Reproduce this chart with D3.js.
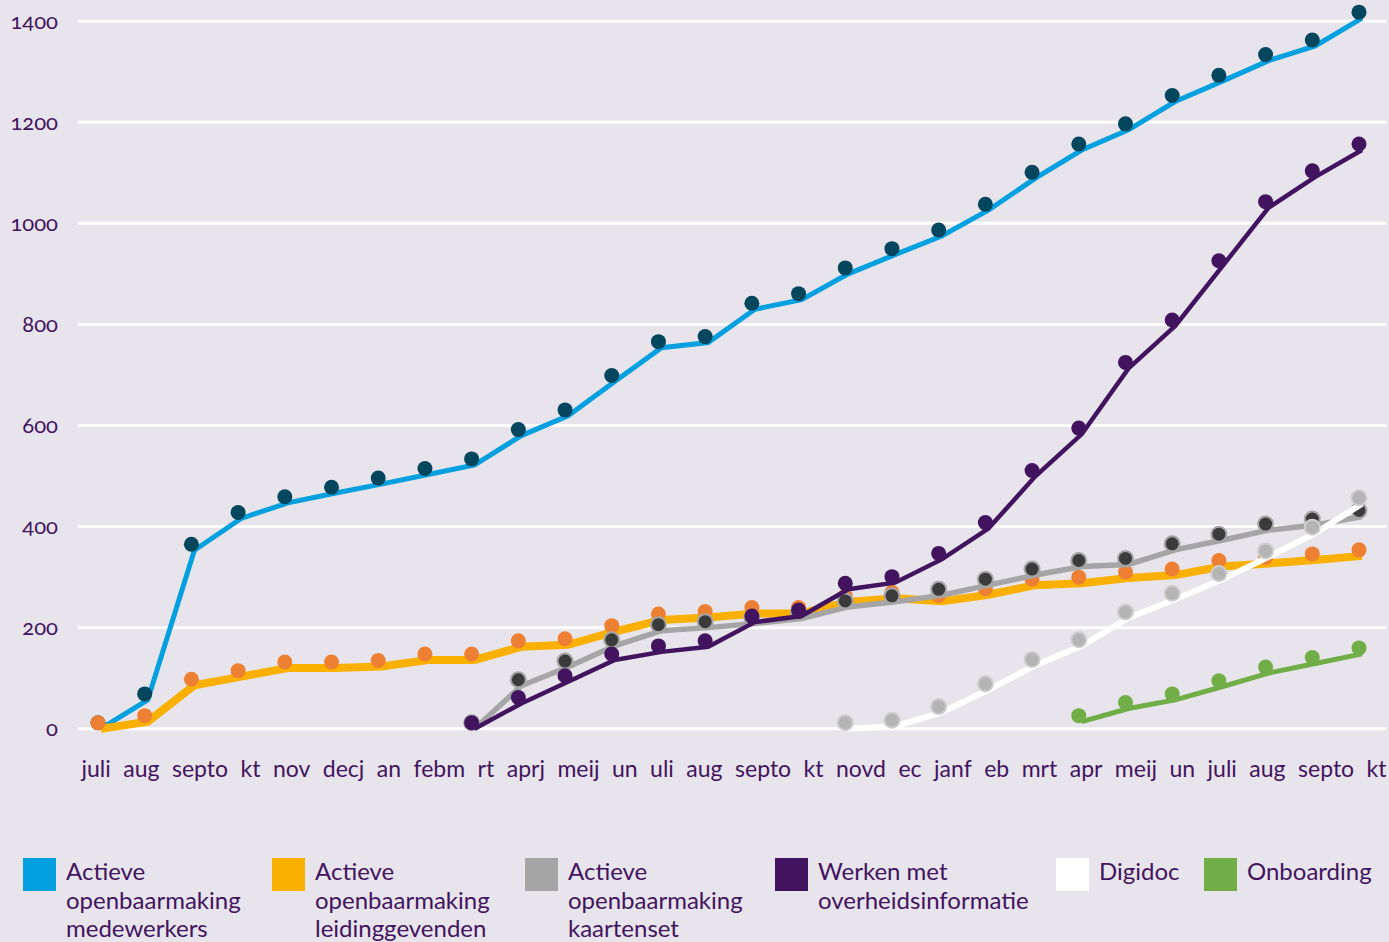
<!DOCTYPE html>
<html>
<head>
<meta charset="utf-8">
<script src="https://cdn.jsdelivr.net/npm/d3@7"></script>
<style>
  html, body { margin: 0; padding: 0; background: #e8e4eb; }
  svg { display: block; }
  text { font-family: Lato, "Open Sans", sans-serif; fill: #42145f; }
</style>
</head>
<body>
<svg id="chart" width="1389" height="942"></svg>
<script>
// ---------- data ----------
const monthLabels = ["juli","aug","septo","kt","nov","decj","an","febm","rt","aprj","meij","un","uli","aug","septo","kt","novd","ec","janf","eb","mrt","apr","meij","un","juli","aug","septo","kt"];
const yTicks = [0, 200, 400, 600, 800, 1000, 1200, 1400];

const medewerkers = [0, 57, 353, 416, 447, 466, 484, 503, 522, 580, 619, 687, 754, 764, 830, 849, 900, 938, 975, 1026, 1089, 1145, 1185, 1241, 1281, 1322, 1351, 1406];
const leidinggevenden = [0, 14, 86, 103, 120, 120, 123, 136, 136, 162, 166, 192, 215, 220, 228, 228, 251, 258, 252, 265, 284, 288, 298, 304, 321, 327, 334, 342];
const kaartenset = [null, null, null, null, null, null, null, null, 0, 85, 122, 164, 194, 200, 208, 218, 241, 251, 264, 284, 304, 321, 325, 354, 373, 393, 403, 420];
const overheidsinformatie = [null, null, null, null, null, null, null, null, 0, 50, 93, 136, 152, 162, 211, 223, 276, 289, 335, 396, 499, 583, 713, 797, 914, 1031, 1092, 1145];
const digidoc = [null, null, null, null, null, null, null, null, null, null, null, null, null, null, null, null, 0, 5, 32, 77, 125, 164, 219, 256, 295, 340, 387, 445];
const onboarding = [null, null, null, null, null, null, null, null, null, null, null, null, null, null, null, null, null, null, null, null, null, 14, 40, 57, 83, 110, 129, 148];

const seriesNames = [
  ["Actieve", "openbaarmaking", "medewerkers"],
  ["Actieve", "openbaarmaking", "leidinggevenden"],
  ["Actieve", "openbaarmaking", "kaartenset"],
  ["Werken met", "overheidsinformatie"],
  ["Digidoc"],
  ["Onboarding"]
];
const seriesValues = [medewerkers, leidinggevenden, kaartenset, overheidsinformatie, digidoc, onboarding];

// ---------- styles ----------
const styles = [
  { line: "#03a0e0", width: 5, dot: "#05465f", dotStroke: "none", dotStrokeW: 0 },
  { line: "#f9b000", width: 8, dot: "#ee8034", dotStroke: "none", dotStrokeW: 0 },
  { line: "#a5a5a5", width: 5.5, dot: "#3b3b3b", dotStroke: "#a5a5a5", dotStrokeW: 2 },
  { line: "#42145f", width: 4.5, dot: "#42145f", dotStroke: "none", dotStrokeW: 0 },
  { line: "#ffffff", width: 6, dot: "#b4b4b4", dotStroke: "#cdcdcd", dotStrokeW: 2 },
  { line: "#72ae48", width: 5, dot: "#72ae48", dotStroke: "none", dotStrokeW: 0 }
];
const legendX = [23, 272, 525, 775, 1056, 1204];

// ---------- layout ----------
const svg = d3.select("#chart");
const x = d3.scalePoint().domain(d3.range(monthLabels.length)).range([101, 1362]);
const y = d3.scaleLinear().domain([0, 1400]).range([728.7, 21.2]);
const dotDx = -3, dotDy = -6, dotR = 7.5;

// gridlines
svg.append("g").selectAll("line").data(yTicks).join("line")
  .attr("x1", 78).attr("x2", 1386)
  .attr("y1", d => y(d)).attr("y2", d => y(d))
  .attr("stroke", "#ffffff").attr("stroke-width", 3);

// y axis labels
const yAxis = d3.axisLeft(y).tickValues(yTicks).tickFormat(d3.format("d")).tickSize(0).tickPadding(0);
const gy = svg.append("g").attr("transform", "translate(58,0)").call(yAxis);
gy.select(".domain").remove();
gy.selectAll("text")
  .attr("fill", "#4a2470")
  .style("font-family", "Lato, 'Open Sans', sans-serif")
  .style("font-size", "22px")
  .style("font-variant-numeric", "oldstyle-nums")
  .attr("dy", "0.32em");

// x axis labels: set as one justified line of text running under the ticks
const xAxis = d3.axisBottom(x).tickFormat(i => monthLabels[i]).tickSize(0).tickPadding(0);
const gx = svg.append("g").attr("transform", "translate(0,777)").call(xAxis);
gx.select(".domain").remove();
const xTexts = gx.selectAll("text")
  .attr("fill", "#42145f")
  .attr("dy", 0).attr("y", 0)
  .attr("text-anchor", "start")
  .style("font-family", "Lato, 'Open Sans', sans-serif")
  .style("font-size", "23px");
{
  const nodes = xTexts.nodes();
  const widths = nodes.map(n => n.getComputedTextLength());
  const startX = x(0) - 20, endX = x(monthLabels.length - 1) + 24;
  const gap = (endX - startX - d3.sum(widths)) / (nodes.length - 1);
  let cur = startX;
  nodes.forEach((n, i) => {
    // each tick group is translated to x(i); place text relative to it
    d3.select(n).attr("x", cur - x(i));
    cur += widths[i] + gap;
  });
}

// series
const line = d3.line()
  .defined(d => d.v !== null)
  .x(d => x(d.i)).y(d => y(d.v))
  .curve(d3.curveLinear);

seriesValues.forEach((vals, s) => {
  const pts = vals.map((v, i) => ({ i, v }));
  const st = styles[s];
  const g = svg.append("g");
  g.append("path").datum(pts)
    .attr("d", line)
    .attr("fill", "none")
    .attr("stroke", st.line)
    .attr("stroke-width", st.width)
    .attr("stroke-linejoin", "miter");
  g.selectAll("circle").data(pts.filter(d => d.v !== null)).join("circle")
    .attr("cx", d => x(d.i) + dotDx)
    .attr("cy", d => y(d.v) + dotDy)
    .attr("r", dotR)
    .attr("fill", st.dot)
    .attr("stroke", st.dotStroke)
    .attr("stroke-width", st.dotStrokeW);
});

// legend
const lg = svg.append("g");
seriesNames.forEach((lines, s) => {
  const gx0 = legendX[s];
  lg.append("rect")
    .attr("x", gx0).attr("y", 858).attr("width", 33).attr("height", 33)
    .attr("fill", styles[s].line);
  const t = lg.append("text")
    .attr("x", gx0 + 43).attr("y", 880)
    .style("font-size", "24px");
  lines.forEach((ln, k) => {
    t.append("tspan").attr("x", gx0 + 43).attr("dy", k === 0 ? 0 : 28.5).text(ln);
  });
});
</script>
</body>
</html>
